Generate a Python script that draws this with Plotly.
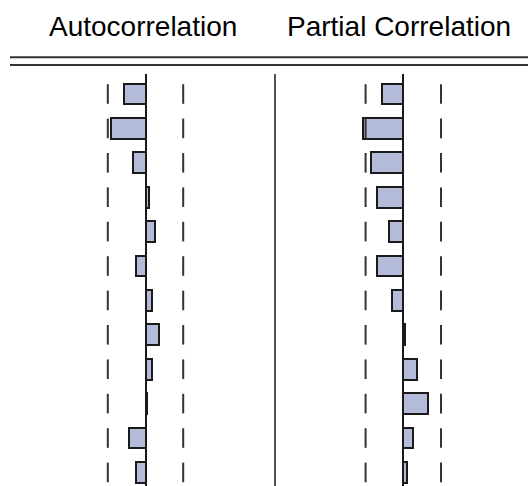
import plotly.graph_objects as go

lags = list(range(1, 13))
acf = [-0.115, -0.182, -0.065, 0.021, 0.053, -0.048, 0.034, 0.069, 0.034, 0.010, -0.090, -0.048]
pacf = [-0.115, -0.216, -0.173, -0.142, -0.074, -0.142, -0.058, 0.008, 0.071, 0.129, 0.053, 0.021]
conf_bound = 0.2
titles = ["Autocorrelation", "Partial Correlation"]

W, H = 528, 486
TOP = 74
split = 275 / W

bar_fill = "#b3bbd9"
bar_edge = "#1a1a1a"
dash_col = "#333333"

fig = go.Figure()

for vals, xa in [(acf, "x"), (pacf, "x2")]:
    fig.add_trace(go.Bar(
        x=vals, y=lags, orientation="h", width=0.6,
        marker=dict(color=bar_fill, line=dict(color=bar_edge, width=2)),
        xaxis=xa, yaxis="y", showlegend=False, hoverinfo="skip",
    ))
    for sgn in (-1, 1):
        fig.add_trace(go.Scatter(
            x=[sgn * conf_bound] * len(lags), y=lags, mode="markers",
            marker=dict(symbol="line-ns", size=14, line=dict(color=dash_col, width=2)),
            xaxis=xa, yaxis="y", showlegend=False, hoverinfo="skip",
        ))

scale = 188.5  # px per unit
z1, z2 = 145.5, 403.3
fig.update_layout(
    width=W, height=H,
    margin=dict(l=0, r=0, t=TOP, b=0),
    paper_bgcolor="white", plot_bgcolor="white",
    bargap=0,
    xaxis=dict(domain=[0, split], range=[(0 - z1) / scale, (275 - z1) / scale],
               showgrid=False, showticklabels=False, ticks="",
               zeroline=True, zerolinecolor="#1a1a1a", zerolinewidth=1.5, fixedrange=True),
    xaxis2=dict(domain=[split, 1], range=[(275 - z2) / scale, (528 - z2) / scale],
                showgrid=False, showticklabels=False, ticks="",
                zeroline=True, zerolinecolor="#1a1a1a", zerolinewidth=1.5, fixedrange=True),
    yaxis=dict(range=[12.395, 0.4186], showgrid=False, showticklabels=False, ticks="",
               zeroline=False, fixedrange=True),
)

plot_h = H - TOP
def py(p):
    return (H - p) / plot_h

shapes = [
    dict(type="line", xref="paper", yref="paper", x0=split, x1=split, y0=0, y1=1,
         line=dict(color="#1a1a1a", width=1.5)),
    dict(type="line", xref="paper", yref="paper", x0=10 / W, x1=1, y0=py(57.3), y1=py(57.3),
         line=dict(color="#333333", width=2)),
    dict(type="line", xref="paper", yref="paper", x0=10 / W, x1=1, y0=py(65), y1=py(65),
         line=dict(color="#333333", width=2)),
]
fig.update_layout(shapes=shapes)

for t, cx in zip(titles, [142.5, 398.7]):
    fig.add_annotation(text=t, x=cx / W, y=py(27), xref="paper", yref="paper",
                       showarrow=False, xanchor="center", yanchor="middle",
                       font=dict(family="Liberation Sans, Arial", size=28, color="black"))

fig.write_html("out.html")
